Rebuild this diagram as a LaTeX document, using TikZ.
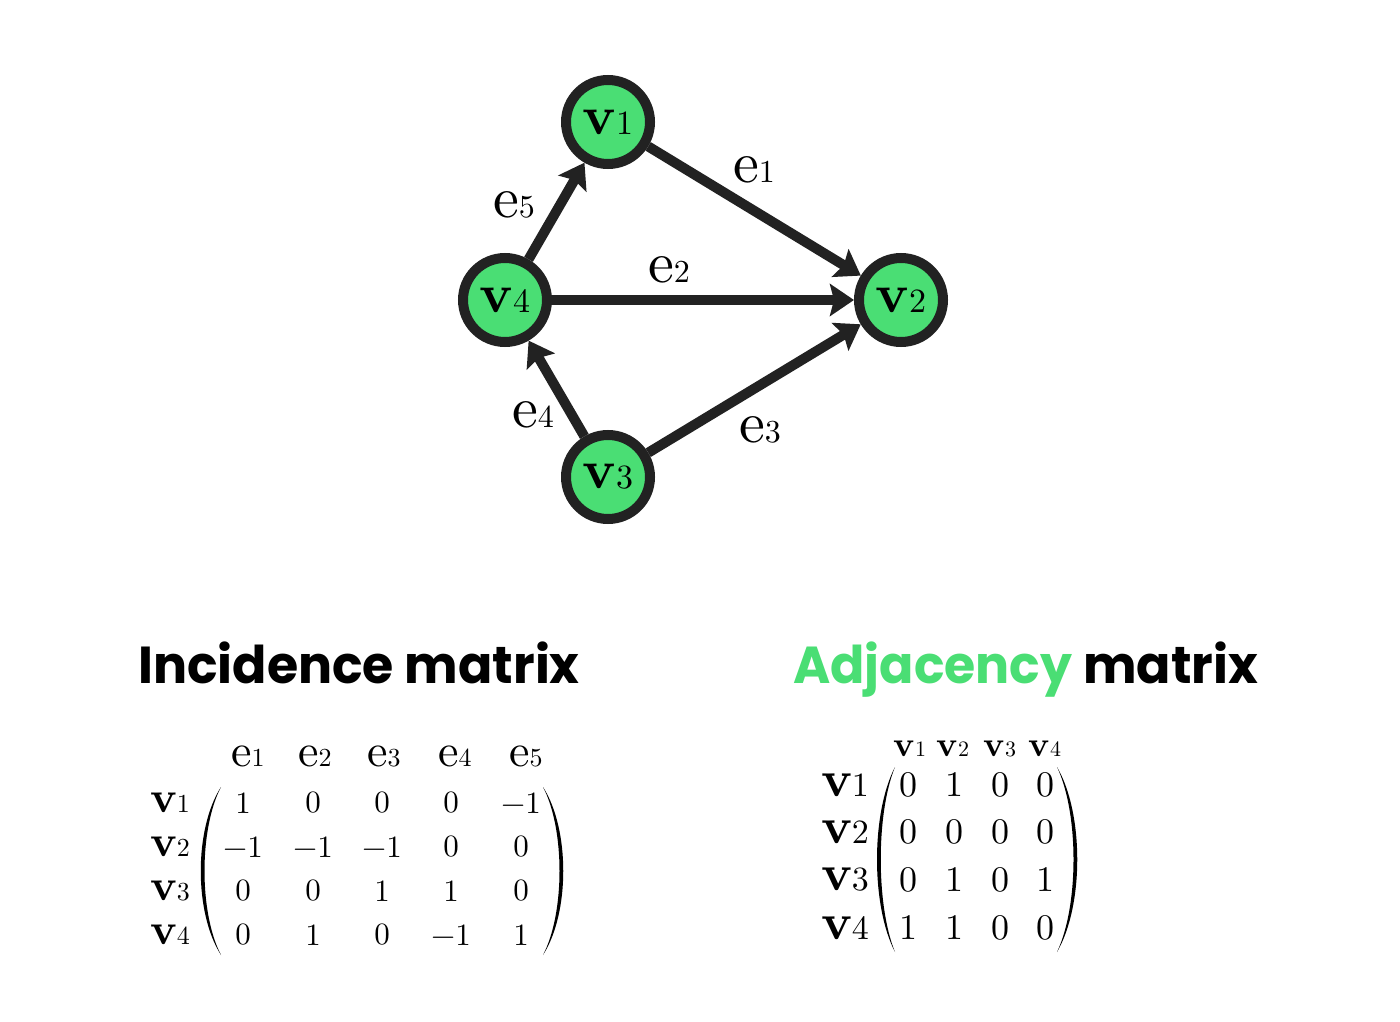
\documentclass[tikz,border=0pt]{standalone}
\usepackage{fontspec}
\usetikzlibrary{arrows.meta}
\setmainfont{lmroman10-regular.otf}[BoldFont=lmroman10-bold.otf]
\newfontfamily\titlefont{Poppins}
\definecolor{gr}{HTML}{4ADE74}
\definecolor{ink}{HTML}{222222}
% bold v with index: #1 index, #2 size of v, #3 size of index
\newcommand\bv[3]{{\fontsize{#2}{#2}\selectfont\bfseries v}{\fontsize{#3}{#3}\selectfont #1}}
% e with index
\newcommand\re[3]{{\fontsize{#2}{#2}\selectfont e}{\fontsize{#3}{#3}\selectfont #1}}
% parenthesis drawn as a filled lens: #1 tip x, #2 top y, #3 bottom y, #4 outer offset, #5 inner offset
\newcommand\paren[5]{%
  \fill[black] (#1,#2) .. controls ({#1+#4},{#2+0.25*(#3-#2)}) and ({#1+#4},{#3-0.25*(#3-#2)}) .. (#1,#3)
    .. controls ({#1+#5},{#3-0.25*(#3-#2)}) and ({#1+#5},{#2+0.25*(#3-#2)}) .. (#1,#2) -- cycle;}
\begin{document}
\begin{tikzpicture}[x=1pt,y=-1pt,
  vert/.style={circle, draw=ink, fill=gr, line width=10pt, minimum size=84pt, inner sep=0pt},
  edge/.style={ink, line width=10pt, -{Stealth[length=24pt,width=32pt,inset=4pt]}},
  elab/.style={inner sep=0pt},
  cell/.style={inner sep=0pt},
  ttl/.style={anchor=base west, inner sep=0pt, font=\titlefont\bfseries\fontsize{52}{52}\selectfont}]
\useasboundingbox[fill=white] (0,0) rectangle (1400,1022);

% graph
\node[vert] (v1) at (608,122) {\bv{1}{55}{34}};
\node[vert] (v2) at (901,300) {\bv{2}{55}{34}};
\node[vert] (v3) at (608,477) {\bv{3}{55}{34}};
\node[vert] (v4) at (505,300) {\bv{4}{55}{34}};

\draw[edge] (v1) -- (v2);
\draw[edge] (v4) -- (v2);
\draw[edge] (v3) -- (v2);
\draw[edge] (v3) -- (v4);
\draw[edge] (v4) -- (v1);

\node[elab] (l1) at (754,170) {\re{1}{58}{32}};
\node[elab] (l2) at (669,270) {\re{2}{58}{32}};
\node[elab] (l3) at (760,430) {\re{3}{58}{32}};
\node[elab] (l4) at (533,415) {\re{4}{58}{32}};
\node[elab] (l5) at (514,205) {\re{5}{58}{32}};

% titles
\node[ttl] (t1) at (138,683) {\scalebox{0.973}[1]{Incidence matrix}};
\node[ttl] (t2) at (793,683) {\scalebox{0.973}[1]{\textcolor{gr}{Adjacency} matrix}};

% incidence matrix
\foreach \c/\x in {1/248,2/315,3/384,4/455,5/526}
  \node[cell] (ih\c) at (\x,756) {\re{\c}{46}{26}};
\foreach \r/\y in {1/803,2/847,3/891,4/935}
  \node[cell] (ir\r) at (170,\y) {\bv{\r}{44}{26}};
\foreach \r/\y/\vals in {1/803/{1,0,0,0,−1},2/847/{−1,−1,−1,0,0},3/891/{0,0,1,1,0},4/935/{0,1,0,−1,1}}{
  \foreach \v [count=\c] in \vals {
    \pgfmathsetmacro\xx{{243,313,382,451,521}[\c-1]}
    \node[cell] (i\r\c) at (\xx,\y) {\fontsize{31}{31}\selectfont \v};
  }
}
\paren{221}{787}{955}{-27}{-22}
\paren{543}{787}{955}{27}{22}

% adjacency matrix
\foreach \c/\x in {1/910,2/953,3/1000,4/1045}
  \node[cell] (ah\c) at (\x,749) {\bv{\c}{35}{22}};
\foreach \r/\y in {1/785,2/832,3/880,4/928}
  \node[cell] (ar\r) at (845,\y) {\bv{\r}{51}{34}};
\foreach \r/\y/\vals in {1/785/{0,1,0,0},2/832/{0,0,0,0},3/880/{0,1,0,1},4/928/{1,1,0,0}}{
  \foreach \v [count=\c] in \vals {
    \pgfmathsetmacro\xx{{908,954,1000,1045}[\c-1]}
    \node[cell] (a\r\c) at (\xx,\y) {\fontsize{36}{36}\selectfont \v};
  }
}
\paren{895}{767}{952}{-24}{-19}
\paren{1057}{767}{952}{27}{22}
\end{tikzpicture}
\end{document}
